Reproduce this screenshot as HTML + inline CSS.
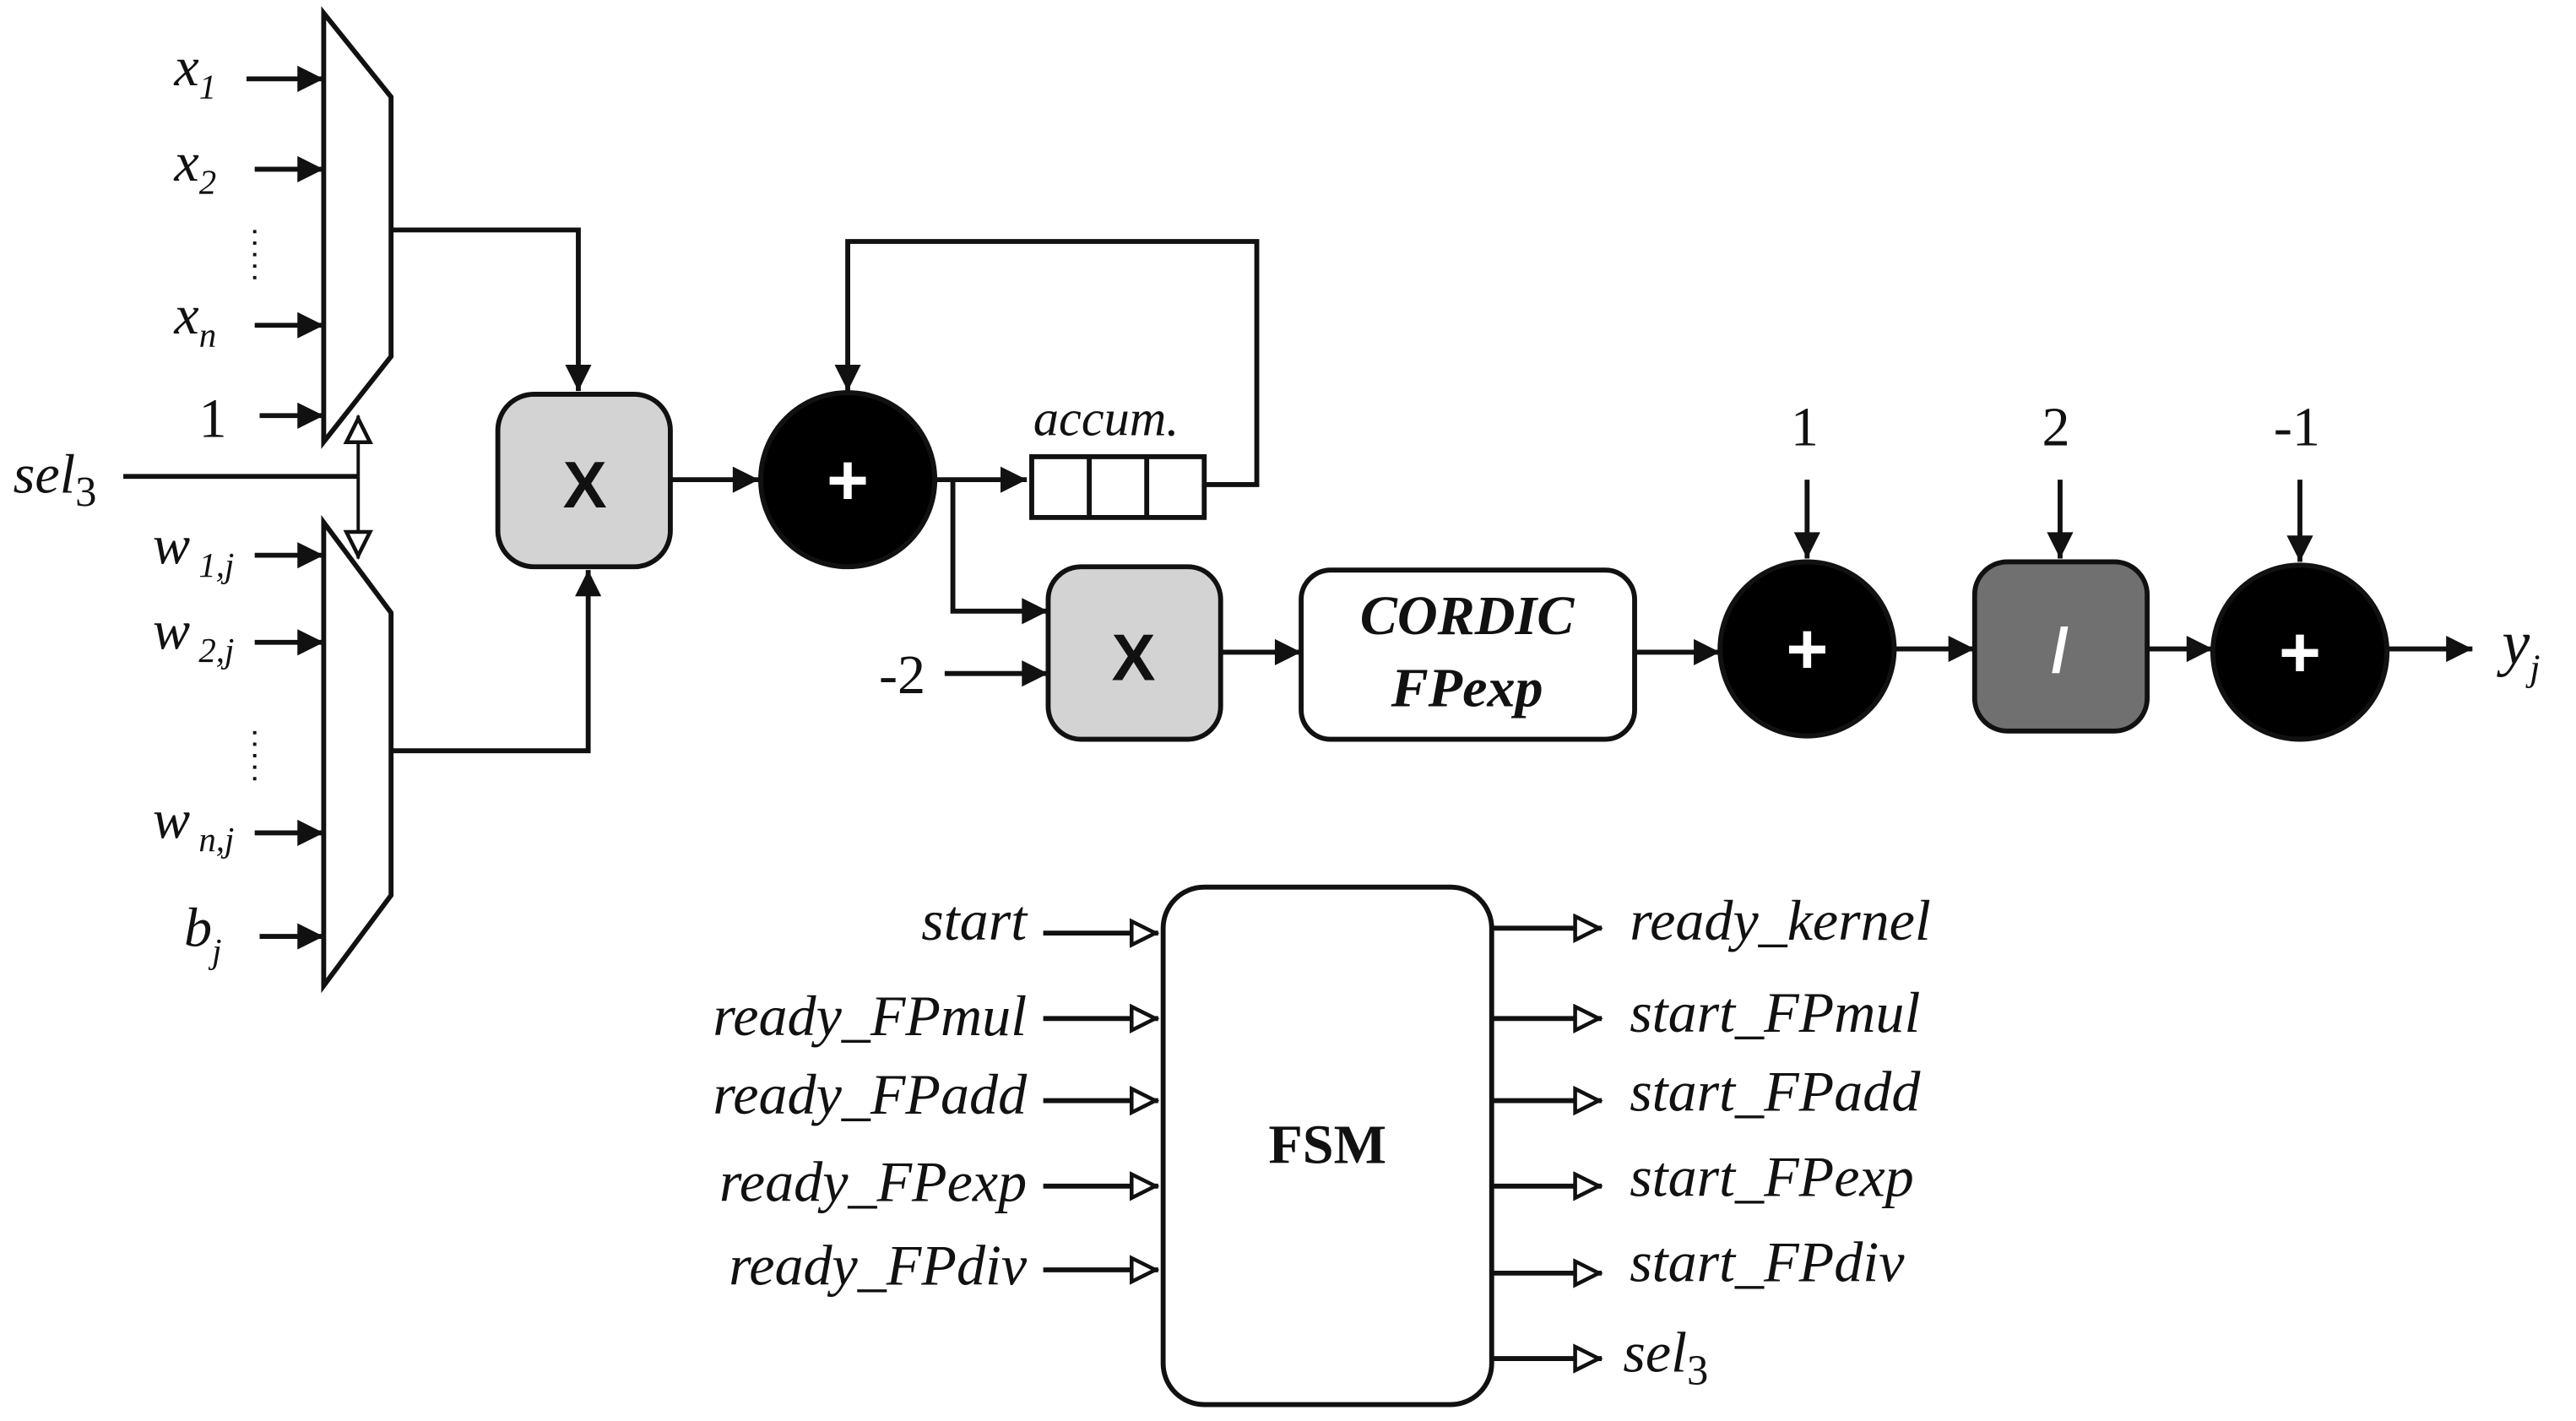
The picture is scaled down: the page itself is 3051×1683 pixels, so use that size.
<!DOCTYPE html>
<html><head><meta charset="utf-8"><style>
html,body{margin:0;padding:0;background:#fff}
svg{display:block}
text{font-family:"Liberation Serif",serif;font-style:italic;fill:#111}
</style></head><body>
<svg width="3051" height="1683" viewBox="0 0 1568 865" xmlns="http://www.w3.org/2000/svg">
<defs>
<marker id="a" viewBox="0 0 10 10" refX="10" refY="5" markerWidth="22" markerHeight="16" markerUnits="userSpaceOnUse" orient="auto"><path d="M0,0L10,5L0,10z" fill="#111"/></marker>
<marker id="h" viewBox="0 0 10 10" refX="10" refY="5" markerWidth="24" markerHeight="18" markerUnits="userSpaceOnUse" orient="auto"><path d="M1,1L9,5L1,9z" fill="#fff" stroke="#111" stroke-width="1.3"/></marker>
</defs>
<g stroke="#111" stroke-width="3" fill="none">
<path d="M197,8 L238,59 L238,217 L197,269 Z" fill="#fff"/>
<path d="M197,318 L238,373 L238,545 L197,600 Z" fill="#fff"/>
<g marker-end="url(#a)">
<path d="M150,48H197"/><path d="M155,103H197"/><path d="M155,198H197"/><path d="M158,253H197"/>
<path d="M155,338H197"/><path d="M155,391H197"/><path d="M155,507H197"/><path d="M158,570H197"/>
<path d="M238,140H352V238"/><path d="M238,457H358V347"/>
<path d="M408,292H462"/>
<path d="M570,292H625"/>
<path d="M580,292V372H638"/>
<path d="M575,410H638"/>
<path d="M743,397H792"/>
<path d="M995,397H1047"/>
<path d="M1153,395H1202"/>
<path d="M1307,395H1347"/>
<path d="M1453,395H1505"/>
<path d="M733,295H765V147H516V238"/>
<path d="M1100,292V340"/><path d="M1254,292V340"/><path d="M1400,292V342"/>
</g>
<path d="M75,290H218"/>
<path d="M218,290V253" marker-end="url(#h)" stroke-width="2"/>
<path d="M218,290V340" marker-end="url(#h)" stroke-width="2"/>
<rect x="303" y="240" width="105" height="105" rx="22" fill="#d3d3d3"/>
<rect x="638" y="345" width="105" height="105" rx="20" fill="#d3d3d3"/>
<rect x="792" y="347" width="203" height="103" rx="18" fill="#fff"/>
<rect x="1202" y="342" width="105" height="103" rx="20" fill="#707070"/>
<circle cx="516" cy="292" r="53" fill="#000"/>
<circle cx="1100" cy="395" r="53" fill="#000"/>
<circle cx="1400" cy="397" r="53" fill="#000"/>
<rect x="628" y="278" width="105" height="37" fill="#fff"/>
<path d="M663,278V315M698,278V315"/>
<rect x="708" y="540" width="200" height="315" rx="25" fill="#fff"/>
<g marker-end="url(#h)">
<path d="M635,568H705"/><path d="M635,620H705"/><path d="M635,670H705"/><path d="M635,722H705"/><path d="M635,773H705"/>
<path d="M908,565H975"/><path d="M908,620H975"/><path d="M908,670H975"/><path d="M908,722H975"/><path d="M908,775H975"/><path d="M908,827H975"/>
</g>
</g>
<g stroke="#111" stroke-width="2" stroke-dasharray="2,5"><path d="M155,140V170"/><path d="M155,445V475"/></g>
<g font-size="34">
<text x="106" y="52">x<tspan font-size="21" dy="8">1</tspan></text>
<text x="106" y="110">x<tspan font-size="21" dy="8">2</tspan></text>
<text x="106" y="203">x<tspan font-size="21" dy="8">n</tspan></text>
<text x="121" y="266" style="font-style:normal">1</text>
<text x="8" y="300">sel<tspan font-size="26" dy="8" style="font-style:normal">3</tspan></text>
<text x="93" y="343">w<tspan font-size="21" dy="8"> 1,j</tspan></text>
<text x="93" y="395">w<tspan font-size="21" dy="8"> 2,j</tspan></text>
<text x="93" y="510">w<tspan font-size="21" dy="8"> n,j</tspan></text>
<text x="112" y="576">b<tspan font-size="21" dy="10">j</tspan></text>
<text x="629" y="265" font-size="31">accum.</text>
<text x="535" y="422" style="font-style:normal">-2</text>
<text x="1090" y="271" style="font-style:normal">1</text>
<text x="1243" y="271" style="font-style:normal">2</text>
<text x="1384" y="271" style="font-style:normal">-1</text>
<text x="1523" y="404" font-size="38">y<tspan font-size="23" dy="10">j</tspan></text>
<text x="893" y="386" text-anchor="middle" font-weight="bold">CORDIC</text>
<text x="893" y="430" text-anchor="middle" font-weight="bold">FPexp</text>
<text x="808" y="708" text-anchor="middle" font-weight="bold" style="font-style:normal">FSM</text>
</g>
<g font-size="35">
<g text-anchor="end">
<text x="625" y="572">start</text><text x="625" y="630">ready_FPmul</text><text x="625" y="678">ready_FPadd</text><text x="625" y="731">ready_FPexp</text><text x="625" y="782">ready_FPdiv</text>
</g>
<text x="992" y="572">ready_kernel</text><text x="992" y="628">start_FPmul</text><text x="992" y="676">start_FPadd</text><text x="992" y="728">start_FPexp</text><text x="992" y="780">start_FPdiv</text>
<text x="988" y="835">sel<tspan font-size="26" dy="8" style="font-style:normal">3</tspan></text>
</g>
<g text-anchor="middle">
<text x="356" y="309" font-size="40" style="font-style:normal;font-family:'Liberation Sans';font-weight:bold">X</text>
<text x="690" y="414" font-size="40" style="font-style:normal;font-family:'Liberation Sans';font-weight:bold">X</text>
<text x="516" y="307" font-size="44" style="font-style:normal;font-family:'Liberation Sans';font-weight:bold;fill:#fff">+</text>
<text x="1100" y="410" font-size="44" style="font-style:normal;font-family:'Liberation Sans';font-weight:bold;fill:#fff">+</text>
<text x="1400" y="412" font-size="44" style="font-style:normal;font-family:'Liberation Sans';font-weight:bold;fill:#fff">+</text>
<text x="1254" y="409" font-size="38" style="font-style:normal;font-family:'Liberation Sans';font-weight:bold;fill:#fff">/</text>
</g>
</svg>
</body></html>
